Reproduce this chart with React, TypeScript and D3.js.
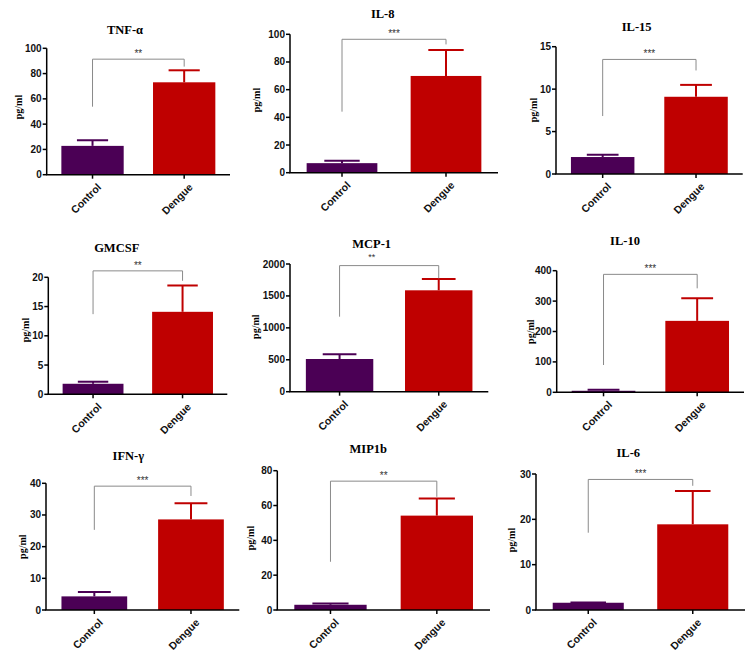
import React from "react";
import * as d3 from "d3";

const titles = ["TNF-α", "IL-8", "IL-15", "GMCSF", "MCP-1", "IL-10", "IFN-γ", "MIP1b", "IL-6"];
const categories = ["Control", "Dengue"];
const controlMean = [22.8, 6.9, 2.0, 1.8, 512, 5, 4.3, 3.0, 1.6];
const controlErr = [4.5, 1.8, 0.27, 0.35, 73, 3, 1.4, 0.8, 0.05];
const dengueMean = [73.1, 69.9, 9.1, 14.1, 1588, 235, 28.6, 54.2, 18.9];
const dengueErr = [9.5, 18.8, 1.4, 4.5, 177, 74, 5.1, 9.9, 7.35];
const yMax = [100, 100, 15, 20, 2000, 400, 40, 80, 30];
const yStep = [20, 20, 5, 5, 500, 100, 10, 20, 10];
const stars = ["**", "***", "***", "**", "**", "***", "***", "**", "***"];
const bracketTop = [91.4, 96.4, 13.5, 21.1, 1975, 388, 39.1, 74, 28.8];
const bracketLeftEnd = [53.8, 44.1, 6.83, 13.7, 1175, 89.8, 25.3, 27.7, 17.05];
const bracketRightEnd = [85.5, 92.7, 12.2, 19.4, 1776, 342, 36, 65, 27.4];

// layout (pixels): axisX, axisRight, yTop, yZero, titleX, titleY, labelX, labelY
const layout = [
  [46.7, 230, 48.3, 174.7, 125, 29, 18, 107],
  [290, 498, 34.3, 172.7, 382.7, 13.3, 256.7, 100],
  [556, 742.7, 46.7, 174, 636.7, 26.7, 533.3, 110],
  [48.3, 227.3, 277.3, 394.3, 116.7, 247.3, 25, 330],
  [290, 488.3, 264, 391.7, 371.7, 243.3, 255, 326.7],
  [556.7, 744, 270.7, 392.3, 625, 240.7, 530, 331.7],
  [46, 239.3, 483.3, 610, 128.3, 455.7, 22.7, 546.7],
  [277.3, 490, 470.7, 610, 368.3, 448.3, 250, 538],
  [536, 745, 474, 610, 628.3, 452.7, 511.7, 540],
];

const colors = ["#4B0055", "#BF0000"];

function Panel({ i }: { i: number }) {
  const [ax, ar, yt, yz, tx, ty, lx, ly] = layout[i];
  const y = d3.scaleLinear().domain([0, yMax[i]]).range([yz, yt]);
  const x = d3.scaleBand<string>().domain(categories).range([ax, ar]).paddingInner(0.32).paddingOuter(0.16);
  const bw = x.bandwidth();
  const ticks = d3.range(0, yMax[i] + yStep[i] / 2, yStep[i]);
  const means = [controlMean[i], dengueMean[i]];
  const errs = [controlErr[i], dengueErr[i]];
  const cx0 = (x(categories[0]) as number) + bw / 2;
  const cx1 = (x(categories[1]) as number) + bw / 2;
  const by = y(bracketTop[i]);
  const starX = i === 4 ? tx : (cx0 + cx1) / 2;
  const starY = i === 4 ? 260 : by - 2;
  return (
    <g>
      <text x={tx} y={ty + 4.5} textAnchor="middle" fontFamily="Liberation Serif" fontWeight="bold" fontSize={12.5}>
        {titles[i]}
      </text>
      <text
        transform={`translate(${lx},${ly}) rotate(-90)`}
        textAnchor="middle"
        dominantBaseline="central"
        fontFamily="Liberation Serif"
        fontWeight="bold"
        fontSize={10}
      >
        pg/ml
      </text>
      {categories.map((c, k) => {
        const x0 = x(c) as number;
        const top = y(means[k]);
        const et = y(means[k] + errs[k]);
        const cx = x0 + bw / 2;
        return (
          <g key={c}>
            <rect x={x0} y={top} width={bw} height={yz - top} fill={colors[k]} />
            <line x1={cx} x2={cx} y1={top} y2={et} stroke={colors[k]} strokeWidth={2} />
            <line x1={cx - bw / 4} x2={cx + bw / 4} y1={et} y2={et} stroke={colors[k]} strokeWidth={2} />
          </g>
        );
      })}
      <path
        d={`M${cx0},${y(bracketLeftEnd[i])}V${by}H${cx1}V${y(bracketRightEnd[i])}`}
        fill="none"
        stroke="#8a8a8a"
        strokeWidth={1}
      />
      <text x={starX} y={starY} textAnchor="middle" fontFamily="Liberation Sans" fontSize={i === 4 ? 9 : 10} fill="#333">
        {stars[i]}
      </text>
      {/* y axis */}
      <line x1={ax} x2={ax} y1={yt} y2={yz} stroke="#000" strokeWidth={1.5} />
      {ticks.map((t) => (
        <g key={t}>
          <line x1={ax - 4} x2={ax} y1={y(t)} y2={y(t)} stroke="#000" strokeWidth={1.5} />
          <text
            x={ax - 5}
            y={y(t)}
            textAnchor="end"
            dominantBaseline="central"
            fontFamily="Liberation Sans"
            fontWeight="bold"
            fontSize={10}
            fill="#111"
          >
            {t}
          </text>
        </g>
      ))}
      {/* x axis */}
      <line x1={ax - 0.75} x2={ar} y1={yz} y2={yz} stroke="#000" strokeWidth={1.5} />
      {categories.map((c) => {
        const cx = (x(c) as number) + bw / 2;
        return (
          <g key={c}>
            <line x1={cx} x2={cx} y1={yz} y2={yz + 4} stroke="#000" strokeWidth={1.5} />
            <text
              transform={`translate(${cx + 4},${yz + 8}) rotate(-45)`}
              textAnchor="end"
              dy="0.7em"
              fontFamily="Liberation Sans"
              fontWeight="bold"
              fontSize={10.5}
              fill="#111"
            >
              {c}
            </text>
          </g>
        );
      })}
    </g>
  );
}

export default function App() {
  return (
    <svg width={756} height={663} style={{ display: "block", position: "absolute", left: 0, top: 0, background: "#fff" }}>
      <rect width={756} height={663} fill="#fff" />
      {titles.map((_, i) => (
        <Panel key={i} i={i} />
      ))}
    </svg>
  );
}
